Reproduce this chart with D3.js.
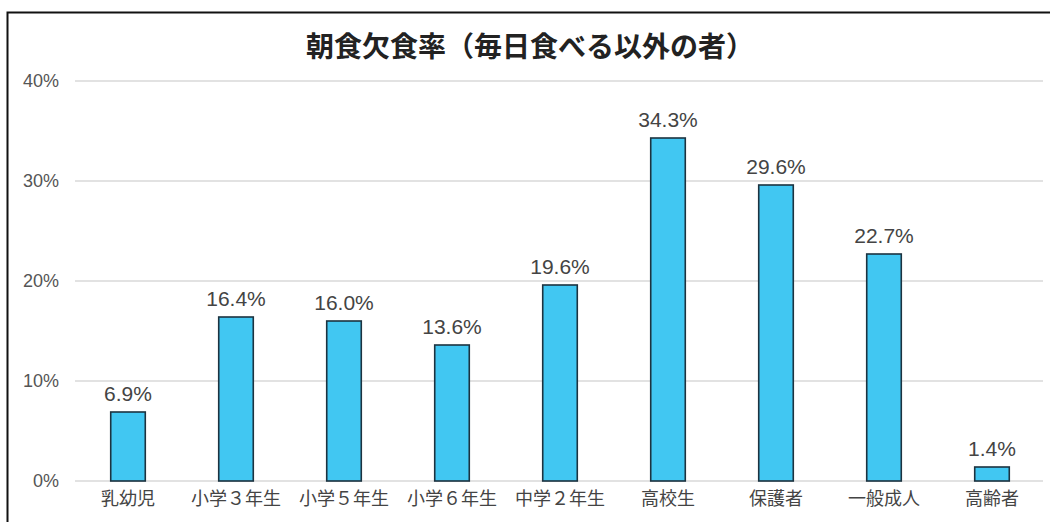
<!DOCTYPE html>
<html>
<head>
<meta charset="utf-8">
<script src="https://cdn.jsdelivr.net/npm/d3@7"></script>
<style>
body{margin:0;background:#fff;}
svg{display:block;font-family:"Noto Sans CJK JP","Noto Sans",sans-serif;}
</style>
</head>
<body>
<svg id="chart" width="1050" height="522"></svg>
<script>
// data
let categories=["乳幼児","小学３年生","小学５年生","小学６年生","中学２年生","高校生","保護者","一般成人","高齢者"];
let values=[6.9,16.4,16.0,13.6,19.6,34.3,29.6,22.7,1.4];
let yTicks=[0,10,20,30,40];
let title="朝食欠食率（毎日食べる以外の者）";

let svg=d3.select("#chart");

// frame
svg.append("rect").attr("x",7.5).attr("y",12.5).attr("width",1060).attr("height",530)
.style("fill","none").style("stroke","#111").style("stroke-width",2);

let x=d3.scaleBand().domain(categories).range([74,1046]).paddingInner(0.68).paddingOuter(0.34);
let y=d3.scaleLinear().domain([0,40]).range([481,81]);

// gridlines
svg.append("g").selectAll("line").data(yTicks).enter().append("line")
.attr("x1",75).attr("x2",1043).attr("y1",d=>y(d)).attr("y2",d=>y(d))
.style("stroke","#d9d9d9").style("stroke-width",1.5);

// y axis labels
let yAxis=d3.axisLeft(y).tickValues(yTicks).tickFormat(d=>d+"%").tickSize(0).tickPadding(0);
let ga=svg.append("g").attr("transform","translate(59,0)").call(yAxis);
ga.select(".domain").remove();
ga.selectAll("text").style("font-size","18px").style("fill","#555").style("font-family","'Liberation Sans',Arial,sans-serif");

// bars
svg.append("g").selectAll("rect").data(values).enter().append("rect")
.attr("x",(d,i)=>x(categories[i]))
.attr("y",d=>y(d))
.attr("width",x.bandwidth())
.attr("height",d=>y(0)-y(d))
.style("fill","#41c7f2").style("stroke","#1c3340").style("stroke-width",1.6);

// value labels
svg.append("g").selectAll("text").data(values).enter().append("text")
.attr("x",(d,i)=>x(categories[i])+x.bandwidth()/2)
.attr("y",d=>y(d)-11)
.attr("text-anchor","middle")
.text(d=>d.toFixed(1)+"%")
.style("font-size","21px").style("fill","#444").style("font-family","'Liberation Sans',Arial,sans-serif");

// category labels
svg.append("g").selectAll("text").data(categories).enter().append("text")
.attr("x",d=>x(d)+x.bandwidth()/2)
.attr("y",505)
.attr("text-anchor","middle")
.text(d=>d)
.style("font-size","18px").style("fill","#444");

// title
svg.append("text").attr("x",530).attr("y",57).attr("text-anchor","middle")
.text(title).style("font-size","28px").style("font-weight","bold").style("fill","#222");
</script>
</body>
</html>
